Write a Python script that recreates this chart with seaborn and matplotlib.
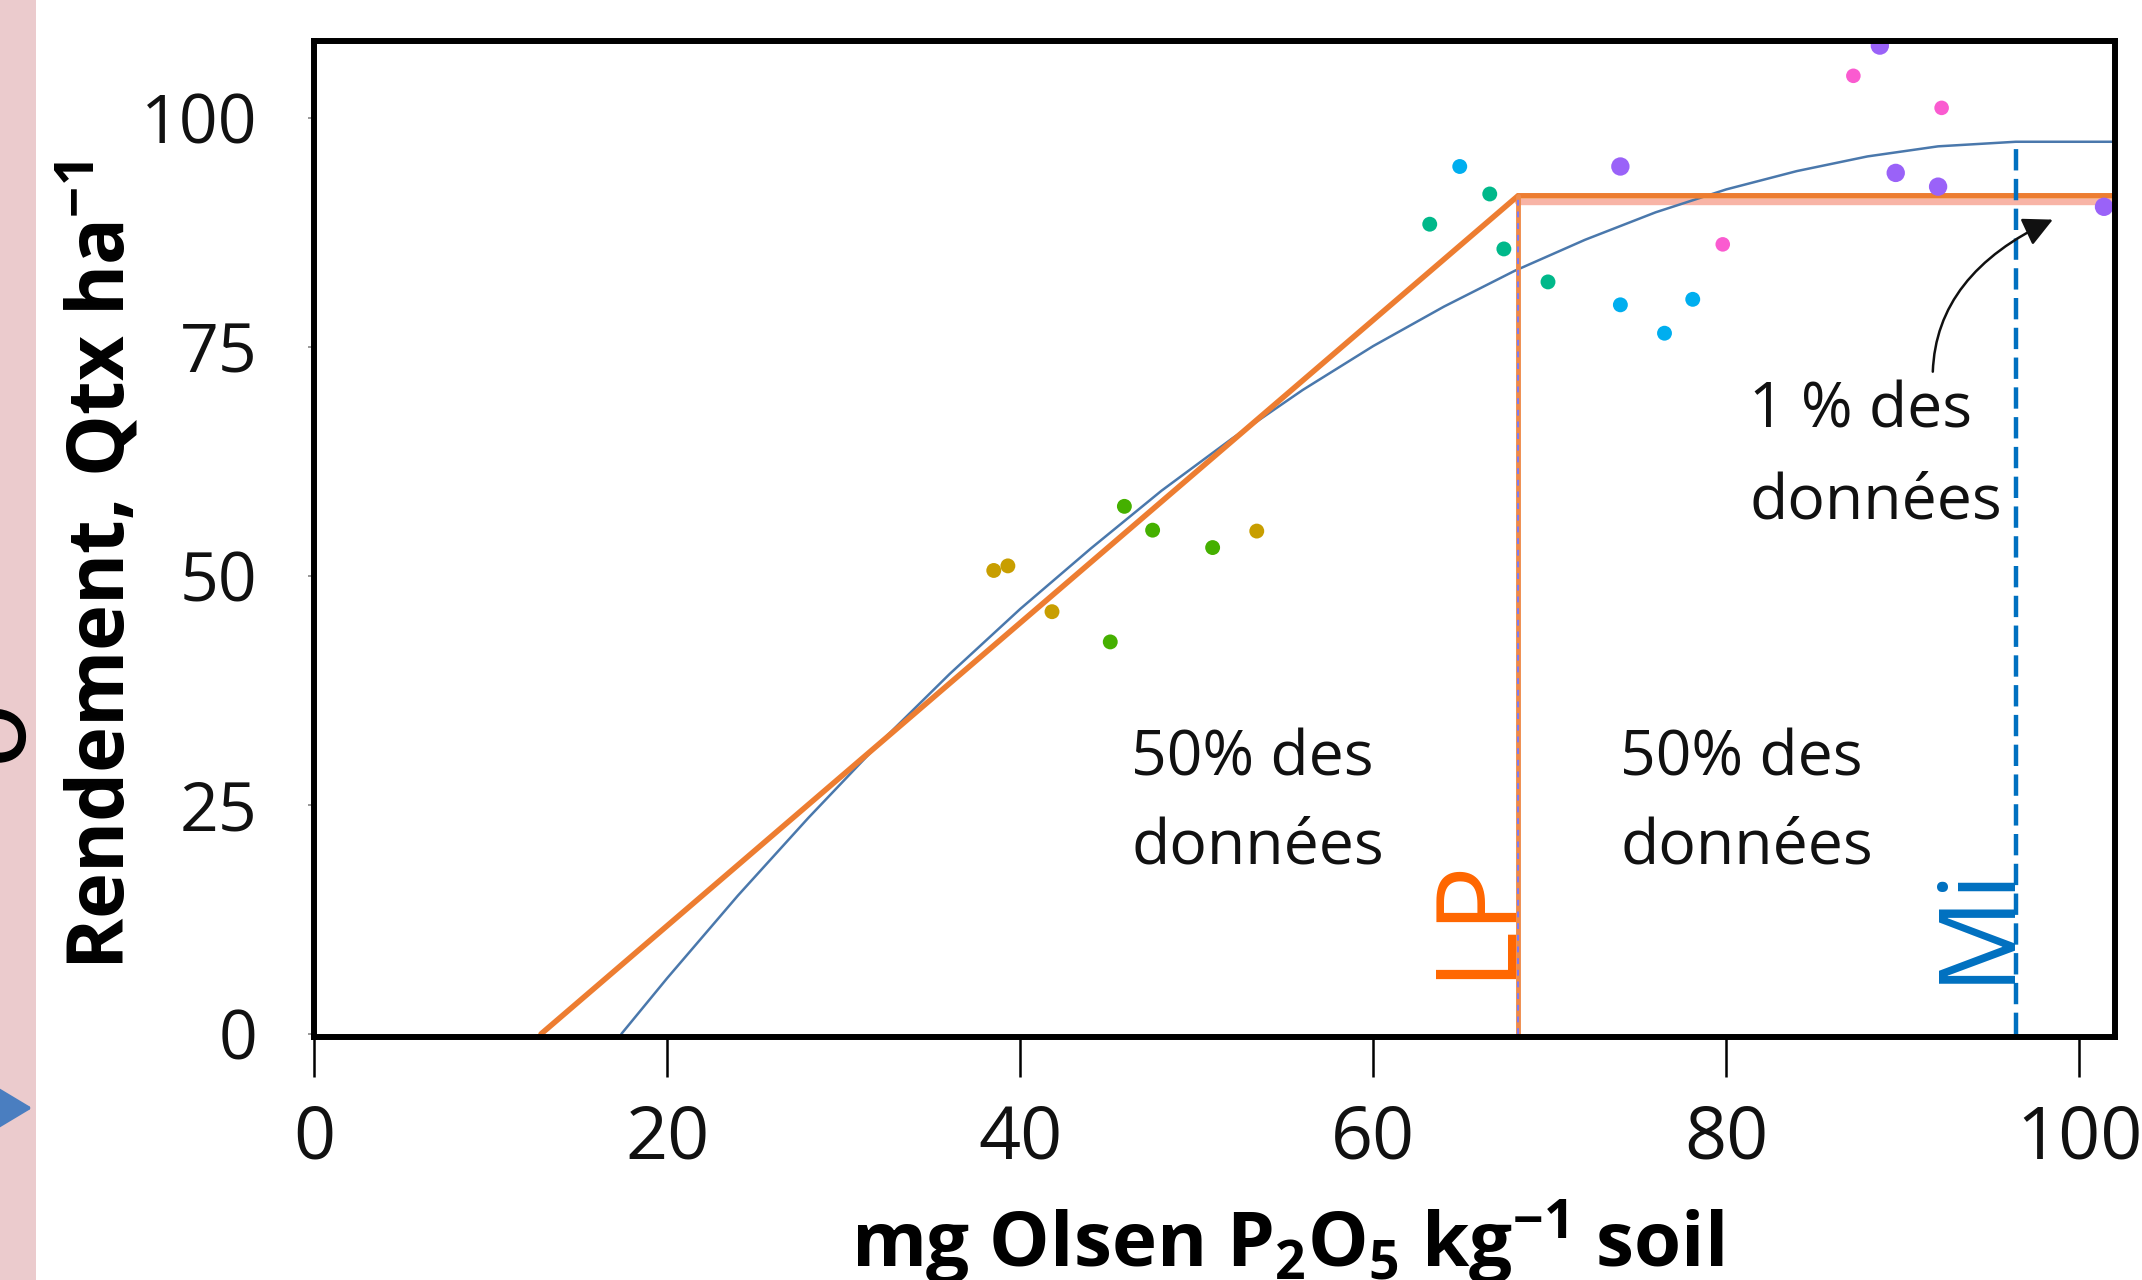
import matplotlib
matplotlib.use("Agg")
import matplotlib.pyplot as plt
import seaborn as sns
import pandas as pd
from matplotlib.patches import Rectangle, FancyArrowPatch

# ---------------- data ----------------
gold_x = [38.5, 39.3, 41.8, 53.4]
gold_y = [50.6, 51.1, 46.1, 54.9]
green_x = [45.9, 47.5, 45.1, 50.9]
green_y = [57.6, 55.0, 42.8, 53.1]
teal_x = [63.2, 66.6, 67.4, 69.9]
teal_y = [88.4, 91.7, 85.7, 82.1]
cyan_x = [64.9, 74.0, 76.5, 78.1]
cyan_y = [94.7, 79.6, 76.5, 80.2]
purple_x = [74.0, 88.7, 89.6, 92.0, 101.4]
purple_y = [94.7, 107.9, 94.0, 92.5, 90.3]
pink_x = [87.2, 92.2, 79.8]
pink_y = [104.6, 101.1, 86.2]

# quadratic-plateau fitted curve (blue)
qp_x = [17.4, 20, 24, 28, 32, 36, 40, 44, 48, 52, 56, 60, 64, 68, 72, 76, 80, 84, 88, 92, 96.4, 102]
qp_y = [0.0, 6.1, 15.1, 23.6, 31.7, 39.3, 46.4, 53.0, 59.3, 65.0, 70.3, 75.1, 79.4, 83.3, 86.7,
        89.7, 92.2, 94.2, 95.8, 96.9, 97.4, 97.4]

# linear-plateau model (orange)
lp_x = [12.85, 68.2, 102.0]
lp_y = [0.0, 91.5, 91.5]
lp_shadow_x = [68.2, 102.0]
lp_shadow_y = [90.8, 90.8]

lp_crit = 68.2      # LP critical value
mi_crit = 96.4      # Mi critical value
mi_top = 97.4

xticks = [0, 20, 40, 60, 80, 100]
yticks = [0, 25, 50, 75, 100]

groups = [
    ("gold", gold_x, gold_y, "#C89E00", 115),
    ("green", green_x, green_y, "#45B000", 115),
    ("teal", teal_x, teal_y, "#00B88A", 115),
    ("cyan", cyan_x, cyan_y, "#00AEEF", 115),
    ("purple", purple_x, purple_y, "#9A62F8", 175),
    ("pink", pink_x, pink_y, "#FA5BD0", 110),
]

# ---------------- style ----------------
sns.set_theme(style="white")
plt.rcParams['font.family'] = ['Open Sans', 'DejaVu Sans']
plt.rcParams['mathtext.fontset'] = 'custom'
plt.rcParams['mathtext.rm'] = 'Open Sans:bold'
plt.rcParams['mathtext.it'] = 'Open Sans:bold'
plt.rcParams['mathtext.bf'] = 'Open Sans:bold'

W, H = 2142, 1280
fig = plt.figure(figsize=(W / 100, H / 100), dpi=100, facecolor='white')

# slide remnants on the left
fig.patches.append(Rectangle((0, 0), 36 / W, 1, transform=fig.transFigure,
                             facecolor='#EBCBCD', edgecolor='none', zorder=0))
fig.text(-47 / W, 1 - 741 / H, "e", rotation=-90, rotation_mode='anchor',
         ha='center', va='baseline', fontsize=86, color='black')
fig.patches.append(FancyArrowPatch((-40 / W, 1 - 1108 / H), (35 / W, 1 - 1108 / H),
                                   transform=fig.transFigure,
                                   arrowstyle="-|>,head_length=1.0,head_width=0.6",
                                   mutation_scale=25, color='#4A7EC0', lw=3))

ax = fig.add_axes([314.2 / W, 1 - 1037 / H, 1800.4 / W, 996 / H])
ax.set_facecolor('white')

# model lines
sns.lineplot(x=qp_x, y=qp_y, ax=ax, color='#4A78AC', lw=1.8, sort=False,
             estimator=None, zorder=3)
sns.lineplot(x=lp_shadow_x, y=lp_shadow_y, ax=ax, color='#F8B4A6', lw=4.6,
             sort=False, estimator=None, zorder=2)
sns.lineplot(x=lp_x, y=lp_y, ax=ax, color='#ED7D31', lw=4.0, sort=False,
             estimator=None, zorder=4, solid_joinstyle='miter')
# LP vertical line
sns.lineplot(x=[lp_crit, lp_crit], y=[0, lp_y[1]], ax=ax, color='#EE8A4A', lw=3.5,
             sort=False, estimator=None, zorder=4)
sns.lineplot(x=[lp_crit, lp_crit], y=[0, lp_y[1]], ax=ax, color='#7B7BF5', lw=1.4,
             sort=False, estimator=None, zorder=5, linestyle=(0, (3, 3)))
# Mi vertical dashed line
sns.lineplot(x=[mi_crit, mi_crit], y=[0, mi_top], ax=ax, color='#0070C0', lw=3.2,
             sort=False, estimator=None, zorder=4, linestyle=(0, (4.8, 1.9)))

# points
for name, xs, ys, col, s in groups:
    df = pd.DataFrame({"x": xs, "y": ys})
    sns.scatterplot(data=df, x="x", y="y", ax=ax, color=col, s=s,
                    edgecolor='none', legend=False, zorder=6)

# annotation arrow
ax.annotate("", xy=(98.5, 88.9), xytext=(91.7, 72.3),
            arrowprops=dict(arrowstyle='-|>', connectionstyle='angle3,angleA=88,angleB=25',
                            color='#111111', lw=1.8, mutation_scale=45,
                            shrinkA=0, shrinkB=0), zorder=7)

# texts
txt_kw = dict(fontsize=45, ha='left', va='baseline', color='#111111')
ax.text(46.3, 28.2, "50% des", **txt_kw)
ax.text(46.3, 18.6, "données", **txt_kw)
ax.text(74.0, 28.2, "50% des", **txt_kw)
ax.text(74.0, 18.6, "données", **txt_kw)
ax.text(81.3, 66.2, "1 % des", **txt_kw)
ax.text(81.3, 56.3, "données", **txt_kw)
ax.text(67.5, 6.0, "LP", rotation=90, rotation_mode='anchor', ha='left',
        va='baseline', color='#FF6600', fontsize=80)
ax.text(95.85, 5.6, "Mi", rotation=90, rotation_mode='anchor', ha='left',
        va='baseline', color='#0070C0', fontsize=76)

# axes
ax.set_xlim(0, 102)
ax.set_ylim(-0.33, 108.4)
ax.set_xticks(xticks)
ax.set_yticks(yticks)
ax.set_xlabel("")
ax.set_ylabel("")
ax.tick_params(axis='x', direction='out', length=29, width=1.8, color='black',
               pad=18, labelsize=53, bottom=True, labelcolor='#111111')
ax.tick_params(axis='y', direction='out', length=4, width=1.2, color='#888888',
               pad=37, labelsize=49, left=True, labelcolor='#111111')
for sp in ax.spines.values():
    sp.set_visible(True)
    sp.set_color('black')
    sp.set_linewidth(4.3)
    sp.set_zorder(8)

fig.text(1287 / W, 13 / H, "mg Olsen P$_2$O$_5$ kg$^{-1}$ soil", ha='center',
         va='baseline', fontsize=55, fontweight='bold', color='black')
fig.text(125 / W, 1 - 566 / H, "Rendement, Qtx ha$^{-1}$", rotation=90,
         rotation_mode='anchor', ha='center', va='baseline', fontsize=56,
         fontweight='bold', color='black')

fig.savefig("out.png", dpi=100, facecolor='white')
